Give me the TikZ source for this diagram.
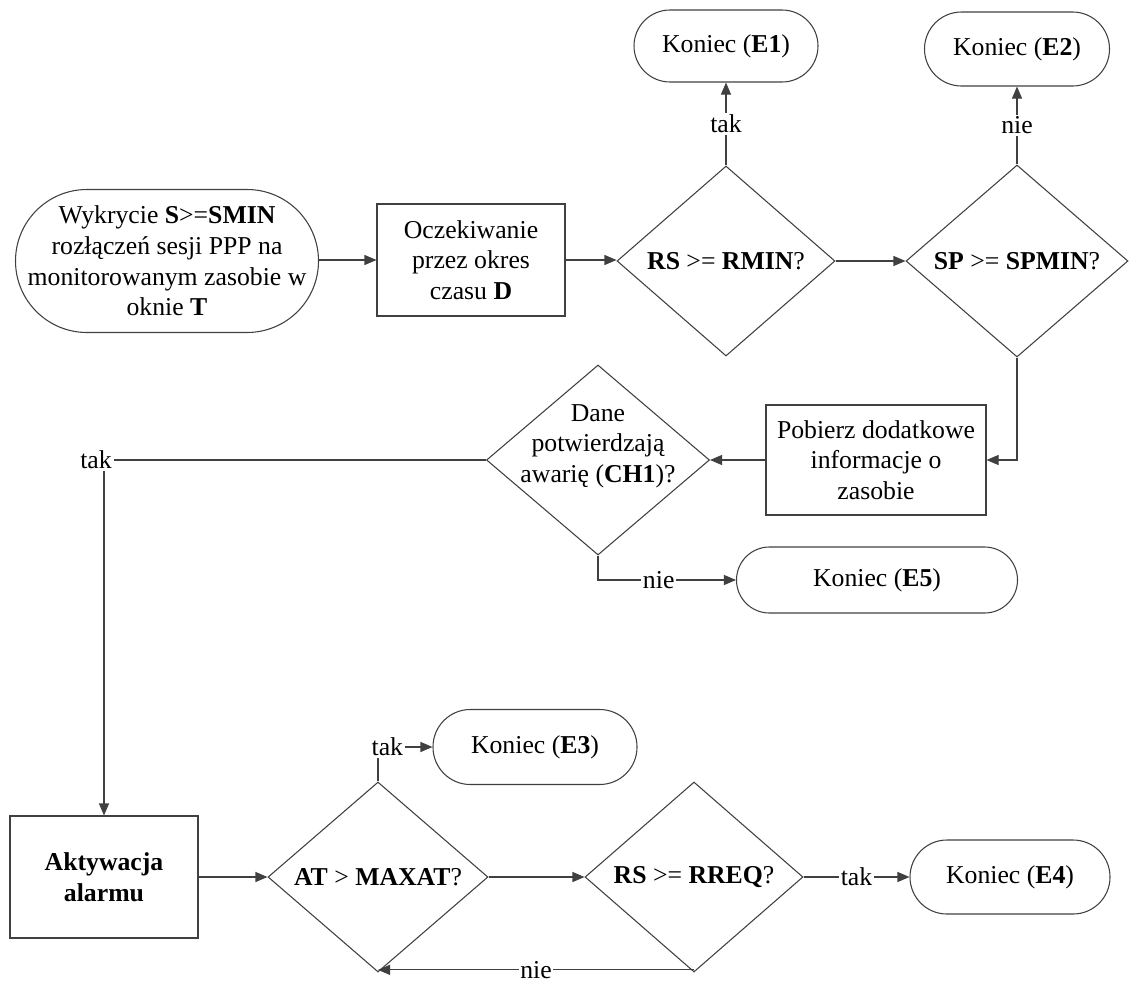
\documentclass[tikz,border=0pt]{standalone}
\usepackage{fontspec}
\setmainfont{Liberation Serif}
\usetikzlibrary{shapes.geometric,arrows.meta}

\begin{document}
\begin{tikzpicture}[x=0.75pt,y=-0.75pt,
  every node/.style={font=\fontsize{19.3}{23}\selectfont},
  line/.style={draw=black!75, line width=0.8pt},
  arr/.style={line, -{Triangle[length=9pt,width=7.5pt]}},
  terminal/.style={rectangle, draw=black!75, line width=0.8pt, inner sep=0pt, align=center},
  procbox/.style={rectangle, draw=black!75, line width=0.8pt, inner sep=0pt, align=center},
  decision/.style={diamond, draw=black!75, line width=0.8pt, inner sep=0pt},
  lbl/.style={fill=white, inner sep=1.5pt}
]
\useasboundingbox (0,0) rectangle (1130,985);

% start / end terminals
\node[terminal, minimum width=227.25pt, minimum height=107.25pt, rounded corners=53.6pt] (start) at (167,261)
  {Wykrycie \textbf{S}>=\textbf{SMIN}\\rozłączeń sesji PPP na\\monitorowanym zasobie w\\oknie \textbf{T}};
\node[terminal, minimum width=138pt, minimum height=54pt, rounded corners=27pt] (e1) at (726,46) {Koniec (\textbf{E1})};
\node[terminal, minimum width=138.75pt, minimum height=55.5pt, rounded corners=27.7pt] (e2) at (1017,49) {Koniec (\textbf{E2})};
\node[terminal, minimum width=210.75pt, minimum height=49.5pt, rounded corners=24.7pt] (e5) at (877,580) {Koniec (\textbf{E5})};
\node[terminal, minimum width=153pt, minimum height=56.25pt, rounded corners=28pt] (e3) at (535,747) {Koniec (\textbf{E3})};
\node[terminal, minimum width=150pt, minimum height=55.5pt, rounded corners=27.7pt] (e4) at (1010,877) {Koniec (\textbf{E4})};

% process boxes
\node[procbox, minimum width=141pt, minimum height=84pt] (wait) at (471,260) {Oczekiwanie\\przez okres\\czasu \textbf{D}};
\node[procbox, minimum width=165pt, minimum height=82.5pt] (fetch) at (876,460) {Pobierz dodatkowe\\informacje o\\zasobie};
\node[procbox, minimum width=141pt, minimum height=91.5pt, font=\fontsize{19.3}{23}\selectfont\bfseries] (alarm) at (104,877) {Aktywacja\\alarmu};

% decisions
\node[decision, minimum width=163.5pt, minimum height=142.5pt,
  label={center:\textbf{RS} >= \textbf{RMIN}?}] (d1) at (726,261) {};
\node[decision, minimum width=166.5pt, minimum height=144pt,
  label={center:\textbf{SP} >= \textbf{SPMIN}?}] (d2) at (1017,261) {};
\node[decision, minimum width=167.25pt, minimum height=142.5pt,
  label={[align=center, yshift=10.5pt]center:Dane\\potwierdzają\\awarię (\textbf{CH1})?}] (d3) at (598,460) {};
\node[decision, minimum width=165pt, minimum height=142.5pt,
  label={center:\textbf{AT} > \textbf{MAXAT}?}] (d4) at (378,877) {};
\node[decision, minimum width=163.5pt, minimum height=142.5pt,
  label={center:\textbf{RS} >= \textbf{RREQ}?}] (d5) at (694,877) {};

% connectors
\draw[arr] (start.east |- wait.west) -- (wait.west);
\draw[arr] (wait.east) -- (wait.east -| d1.west);
\draw[arr] (d1.north) -- node[lbl] (t1) {tak} (e1.south);
\draw[arr] (d1.east) -- (d2.west);
\draw[arr] (d2.north) -- node[lbl] (n2) {nie} (e2.south);
\draw[arr] (d2.south) |- (fetch.east);
\draw[arr] (fetch.west) -- (d3.east);
\draw[arr] (d3.west) -| node[lbl, pos=0.5, xshift=-6pt] (t3) {tak} (alarm.north);
\draw[arr] (d3.south) |- node[lbl, pos=0.72] (n3) {nie} (e5.west);
\draw[arr] (alarm.east) -- (d4.west);
\draw[arr] (d4.east) -- (d5.west);
\draw[arr] (d5.east) -- node[lbl] (t5) {tak} (e4.west);
\draw[arr] (d4.north) |- node[lbl, pos=0.5, xshift=7pt] (t4) {tak} (e3.west);
\draw[arr] ([yshift=2pt]d5.south) -- node[lbl, pos=0.5, inner sep=1pt] (n5) {nie} ([yshift=2pt]d4.south);
\end{tikzpicture}
\end{document}
